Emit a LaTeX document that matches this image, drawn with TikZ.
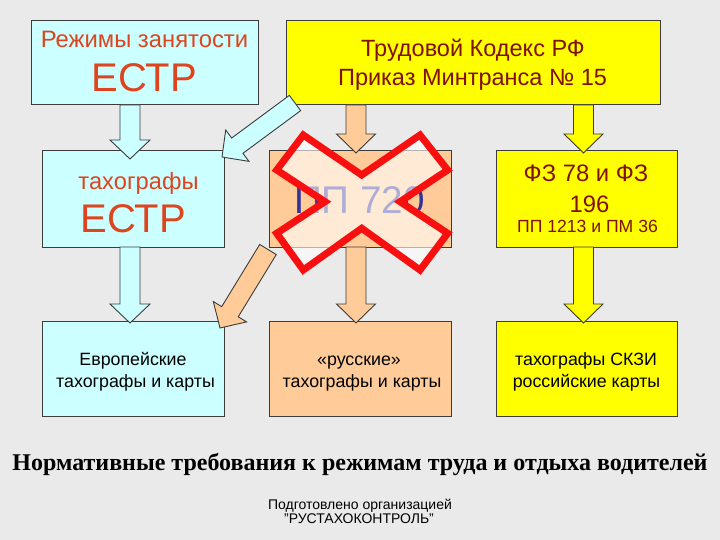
\documentclass[tikz,border=0pt]{standalone}
\usepackage{fontspec}
\setmainfont{Liberation Sans}
\newfontfamily\titlefont{Liberation Serif}
\usetikzlibrary{calc}
\definecolor{bg}{RGB}{234,234,234}
\definecolor{cyanbox}{RGB}{204,255,255}
\definecolor{peach}{RGB}{255,204,153}
\definecolor{yel}{RGB}{255,255,0}
\definecolor{orred}{RGB}{222,68,30}
\definecolor{dred}{RGB}{128,16,0}
\definecolor{navy}{RGB}{51,51,153}
\definecolor{edge}{RGB}{60,60,60}
\definecolor{xred}{RGB}{248,16,16}
\newcommand\fs[1]{\fontsize{#1}{#1}\selectfont}
\newcommand\blockarr[5]{%
  \filldraw[fill=#3, draw=edge, line width=0.9pt, line join=miter]
    let \p1=(#1), \p2=(#2),
        \n1={atan2(\y2-\y1,\x2-\x1)},
        \n2={veclen(\x2-\x1,\y2-\y1)-19pt},
        \n3={\n1+90}, \n4={\n1-90}
    in ($(\p1)+(\n3:#4pt)$) -- ($(\p1)+(\n1:\n2)+(\n3:#4pt)$)
    -- ($(\p1)+(\n1:\n2)+(\n3:#5pt)$) -- (\p2)
    -- ($(\p1)+(\n1:\n2)+(\n4:#5pt)$) -- ($(\p1)+(\n1:\n2)+(\n4:#4pt)$)
    -- ($(\p1)+(\n4:#4pt)$) -- cycle;}
\begin{document}
\begin{tikzpicture}[x=1pt,y=-1pt,
  box/.style={draw=edge, line width=1pt, inner sep=0pt},
  txt/.style={inner sep=0pt, anchor=base}]
\fill[bg] (0,0) rectangle (720,540);
\useasboundingbox (0,0) rectangle (720,540);
% boxes
\node[box, fill=cyanbox, minimum width=227pt, minimum height=84pt] (A) at (144.5,63) {};
\node[box, fill=yel, minimum width=374pt, minimum height=84pt] (B) at (473,63) {};
\node[box, fill=cyanbox, minimum width=182pt, minimum height=96pt] (C) at (133,199) {};
\node[box, fill=peach, minimum width=182pt, minimum height=96pt] (D) at (360,199) {};
\node[box, fill=yel, minimum width=181pt, minimum height=96pt] (E) at (586.5,199) {};
\node[box, fill=cyanbox, minimum width=182pt, minimum height=95pt] (F) at (133,368.5) {};
\node[box, fill=peach, minimum width=182pt, minimum height=95pt] (G) at (360,368.5) {};
\node[box, fill=yel, minimum width=181pt, minimum height=95pt] (H) at (586.5,368.5) {};
% texts
\node[txt, text=orred, font=\fs{23.8}] (At1) at (144.5,48) {Режимы занятости};
\node[txt, text=orred, font=\fs{40}] (At2) at (144,92) {ЕСТР};
\node[txt, text=dred, font=\fs{23.5}] (Bt1) at (473,57) {Трудовой Кодекс РФ};
\node[txt, text=dred, font=\fs{23.5}] (Bt2) at (472.5,86) {Приказ Минтранса № 15};
\node[txt, text=orred, font=\fs{23.7}] (Ct1) at (138.5,190) {тахографы};
\node[txt, text=orred, font=\fs{40}] (Ct2) at (133,233) {ЕСТР};
\node[txt, text=navy, font=\fs{38.6}] (Dt) at (359.5,214) {ПП 720};
\node[txt, text=dred, font=\fs{23.8}] (Et1) at (586,182) {ФЗ 78 и ФЗ};
\node[txt, text=dred, font=\fs{23.8}] (Et2) at (589.5,212) {196};
\node[txt, text=dred, font=\fs{17.6}] (Et3) at (587.5,233) {ПП 1213 и ПМ 36};
\node[txt, font=\fs{17.8}] (Ft1) at (133,365) {Европейские};
\node[txt, font=\fs{17.8}] (Ft2) at (135.5,387) {тахографы и карты};
\node[txt, font=\fs{17.8}] (Gt1) at (359,365) {«русские»};
\node[txt, font=\fs{17.8}] (Gt2) at (362,387) {тахографы и карты};
\node[txt, font=\fs{17.8}] (Ht1) at (586,365) {тахографы СКЗИ};
\node[txt, font=\fs{17.8}] (Ht2) at (586.5,387) {российские карты};
\node[txt, font=\titlefont\bfseries\fs{24}] (title) at (360,470.7) {Нормативные требования к режимам труда и отдыха водителей};
\node[txt, font=\fs{14}] (foot1) at (360,509) {Подготовлено организацией};
\node[txt, font=\fs{14}] (foot2) at (359,523) {"РУСТАХОКОНТРОЛЬ"};
% arrow end points
\coordinate (ac1) at (130,105);   \coordinate (ac2) at (130,159);
\coordinate (cf1) at (130,247);   \coordinate (cf2) at (130,323);
\coordinate (bd1) at (356,105);   \coordinate (bd2) at (356,153);
\coordinate (dg1) at (356,247);   \coordinate (dg2) at (356,323);
\coordinate (be1) at (583.5,105); \coordinate (be2) at (583.5,153);
\coordinate (eh1) at (583.5,247); \coordinate (eh2) at (583.5,323);
\coordinate (bc1) at (295,103);   \coordinate (bc2) at (222,157);
\coordinate (df1) at (268,249.5); \coordinate (df2) at (220,328);
% block arrows
\blockarr{ac1}{ac2}{cyanbox}{10}{20}
\blockarr{cf1}{cf2}{cyanbox}{10}{20}
\blockarr{bd1}{bd2}{peach}{10}{19.5}
\blockarr{dg1}{dg2}{peach}{10}{19.5}
\blockarr{be1}{be2}{yel}{10}{19.5}
\blockarr{eh1}{eh2}{yel}{10}{19.5}
\blockarr{bc1}{bc2}{cyanbox}{9.5}{19.5}
\blockarr{df1}{df2}{peach}{9.7}{19.5}
% red cross
\draw[xred, line width=7pt, fill=white, fill opacity=0.6, line join=miter]
  (303.3,135) -- (361.7,175) -- (420,135) -- (447.7,170) -- (400,201.7)
  -- (447.7,233.3) -- (420,270) -- (361.7,228.3) -- (303.3,270)
  -- (276.7,233.3) -- (325,201.7) -- (276.7,170) -- cycle;
\end{tikzpicture}
\end{document}
